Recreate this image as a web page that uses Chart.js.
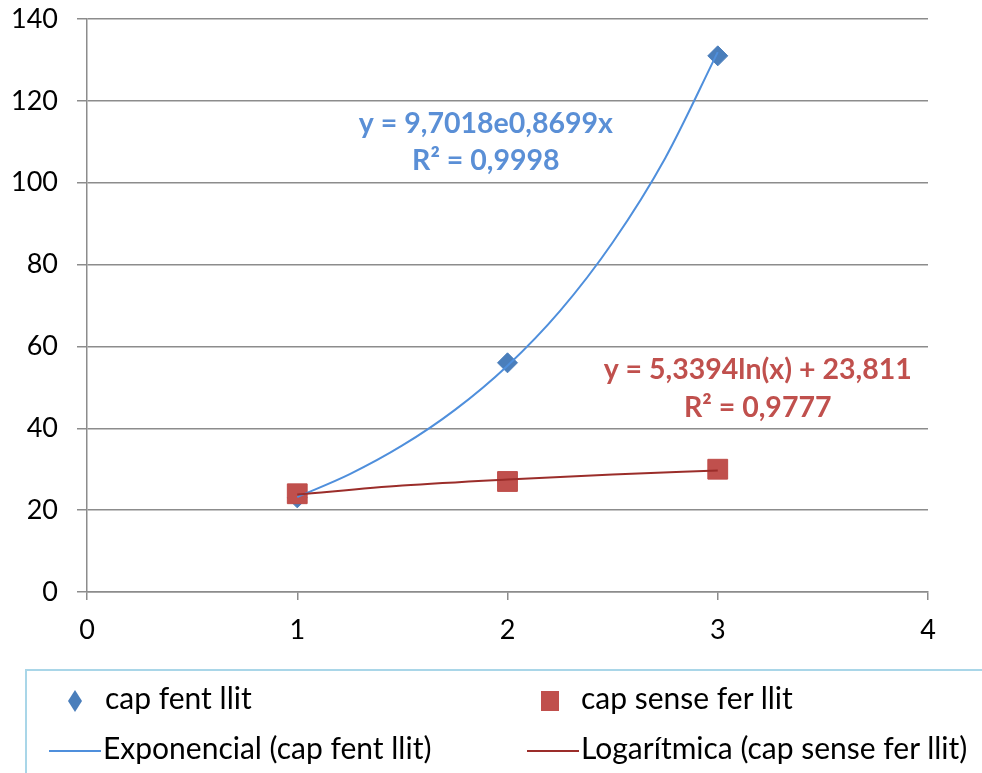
<!DOCTYPE html>
<html>
<head>
<meta charset="utf-8">
<script src="https://cdn.jsdelivr.net/npm/chart.js@4.4.1/dist/chart.umd.min.js"></script>
<style>
  body { margin: 0; background: #fff; }
  #wrap { position: relative; width: 982px; height: 773px; }
  #legend { position: absolute; left: 25px; top: 669px; width: 980px; height: 120px;
            border: 2px solid #a9d6e8; box-sizing: border-box; font-family: Lato, "Noto Sans", sans-serif; font-size: 30px; color: #000; }
  .item { position: absolute; white-space: nowrap; line-height: 30px; }
  .sym { display: inline-block; vertical-align: middle; }
</style>
</head>
<body>
<div id="wrap">
  <canvas id="myChart" width="982" height="773"></canvas>
  <div id="legend"></div>
</div>
<script>
// values
const xValues = [1, 2, 3];
const capFentLlit = [23, 56, 131];
const capSenseFerLlit = [24, 27, 30];

// trendlines
const expTrendX = [1, 1.25, 1.5, 1.75, 2, 2.25, 2.5, 2.75, 3];
const expTrendY = [23.2, 28.8, 35.8, 44.5, 55.3, 68.7, 85.4, 106, 131.9];
const logTrendX = [1, 1.5, 2, 2.5, 3];
const logTrendY = [23.8, 26, 27.5, 28.7, 29.7];

const expLabel = ['y = 9,7018e0,8699x', 'R² = 0,9998'];
const logLabel = ['y = 5,3394ln(x) + 23,811', 'R² = 0,9777'];

const xTicks = [0, 1, 2, 3, 4];
const yTicks = [0, 20, 40, 60, 80, 100, 120, 140];

const font = 'Lato, "Noto Sans", sans-serif';

function pts(xs, ys) { return xs.map((x, i) => ({ x: x, y: ys[i] })); }

// equation labels, anchored in data units
const equationPlugin = {
  id: 'equations',
  afterDatasetsDraw(chart) {
    const ctx = chart.ctx;
    const xs = chart.scales.x, ys = chart.scales.y;
    ctx.save();
    ctx.font = 'bold 28.5px ' + font;
    ctx.textAlign = 'center';
    ctx.textBaseline = 'middle';
    ctx.fillStyle = '#5a8fd6';
    ctx.fillText(expLabel[0], xs.getPixelForValue(1.897), ys.getPixelForValue(114.5));
    ctx.fillText(expLabel[1], xs.getPixelForValue(1.897), ys.getPixelForValue(105.4));
    ctx.fillStyle = '#c0504d';
    ctx.fillText(logLabel[0], xs.getPixelForValue(3.19), ys.getPixelForValue(54.4));
    ctx.fillText(logLabel[1], xs.getPixelForValue(3.19), ys.getPixelForValue(45.0));
    ctx.restore();
  }
};

const ctx = document.getElementById('myChart').getContext('2d');
const myChart = new Chart(ctx, {
  type: 'scatter',
  data: {
    datasets: [
      {
        label: 'cap fent llit',
        data: pts(xValues, capFentLlit),
        pointStyle: 'rectRot',
        pointRadius: 10,
        backgroundColor: '#4a7ebb',
        borderColor: '#4a7ebb',
        borderWidth: 1,
        order: 3
      },
      {
        label: 'cap sense fer llit',
        data: pts(xValues, capSenseFerLlit),
        pointStyle: 'rect',
        pointRadius: 14,
        backgroundColor: '#c0504d',
        borderColor: '#be4b48',
        borderWidth: 1,
        order: 2
      },
      {
        label: 'Exponencial (cap fent llit)',
        data: pts(expTrendX, expTrendY),
        showLine: true,
        pointRadius: 0,
        borderColor: '#4f8fdc',
        borderWidth: 2,
        cubicInterpolationMode: 'monotone',
        order: 1
      },
      {
        label: 'Logarítmica (cap sense fer llit)',
        data: pts(logTrendX, logTrendY),
        showLine: true,
        pointRadius: 0,
        borderColor: '#9b2d2a',
        borderWidth: 2,
        cubicInterpolationMode: 'monotone',
        order: 0
      }
    ]
  },
  options: {
    responsive: false,
    animation: false,
    layout: { padding: { top: 19, right: 54, bottom: 121, left: 0 } },
    plugins: { legend: { display: false }, tooltip: { enabled: false } },
    scales: {
      x: {
        type: 'linear', min: 0, max: 4,
        afterBuildTicks: (s) => { s.ticks = xTicks.map(v => ({ value: v })); },
        afterFit: (s) => { s.height = 60; },
        grid: { drawOnChartArea: false, tickLength: 8, color: '#8c8c8c', lineWidth: 1.5 },
        border: { color: '#8c8c8c', width: 1.5 },
        ticks: { color: '#000', font: { family: font, size: 27 }, padding: 14 }
      },
      y: {
        type: 'linear', min: 0, max: 140,
        afterBuildTicks: (s) => { s.ticks = yTicks.map(v => ({ value: v })); },
        afterFit: (s) => { s.width = 87; s.paddingTop = 0; s.paddingBottom = 0; },
        grid: { tickLength: 10, color: '#8c8c8c', lineWidth: 1.5 },
        border: { color: '#8c8c8c', width: 1.5 },
        ticks: { color: '#000', font: { family: font, size: 27 }, padding: 19 }
      }
    }
  },
  plugins: [equationPlugin]
});

// legend in the box under the chart, built from the datasets
const legendPos = [
  { left: 0, top: 11 }, { left: 500, top: 11 },
  { left: 0, top: 61 }, { left: 500, top: 61 }
];
const legendEl = document.getElementById('legend');
myChart.data.datasets.forEach((ds, i) => {
  const item = document.createElement('div');
  item.className = 'item';
  item.style.left = legendPos[i].left + 'px';
  item.style.top = legendPos[i].top + 'px';
  let sym;
  if (ds.showLine) {
    sym = '<span class="sym" style="width:52px;height:2px;background:' + ds.borderColor + ';margin-left:' + (i === 2 ? 22 : 0) + 'px;margin-right:2px"></span>';
  } else if (ds.pointStyle === 'rectRot') {
    sym = '<svg class="sym" width="14" height="22" style="margin-left:41px;margin-right:23px">' +
      '<polygon points="7,0 14,11 7,22 0,11" fill="' + ds.backgroundColor + '"/></svg>';
  } else {
    sym = '<span class="sym" style="margin-left:14px;margin-right:22px;width:18px;height:20px;background:' + ds.backgroundColor + ';"></span>';
  }
  item.innerHTML = sym + '<span>' + ds.label + '</span>';
  legendEl.appendChild(item);
});
</script>
</body>
</html>
